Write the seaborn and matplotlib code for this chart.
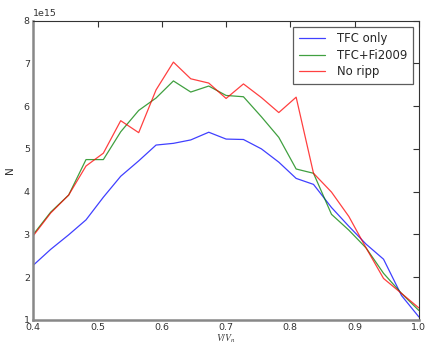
import numpy as np
import pandas as pd
import matplotlib
matplotlib.use("Agg")
import matplotlib.pyplot as plt
import seaborn as sns

x_vals = [0.400, 0.427, 0.455, 0.482, 0.509, 0.536, 0.564, 0.591, 0.618, 0.645,
          0.673, 0.700, 0.727, 0.755, 0.782, 0.809, 0.836, 0.864, 0.891, 0.918,
          0.945, 0.973, 1.000]
tfc_only = [2.28, 2.65, 2.99, 3.34, 3.87, 4.36, 4.72, 5.09, 5.13, 5.21, 5.39, 5.23,
            5.22, 5.00, 4.69, 4.31, 4.17, 3.63, 3.19, 2.77, 2.42, 1.57, 1.07]
tfc_fi2009 = [3.00, 3.52, 3.92, 4.75, 4.75, 5.40, 5.90, 6.19, 6.59, 6.33, 6.47, 6.25,
              6.22, 5.75, 5.27, 4.53, 4.43, 3.47, 3.10, 2.68, 2.09, 1.62, 1.22]
no_ripp = [2.97, 3.50, 3.92, 4.60, 4.90, 5.66, 5.38, 6.38, 7.03, 6.64, 6.54, 6.18,
           6.52, 6.20, 5.85, 6.21, 4.43, 3.99, 3.42, 2.68, 1.97, 1.62, 1.28]
series_names = ["TFC only", "TFC+Fi2009", "No ripp"]
series_colors = ["#0000ff", "#008000", "#ff0000"]
scale = 1e15

rows = []
for name, vals in zip(series_names, [tfc_only, tfc_fi2009, no_ripp]):
    for xv, yv in zip(x_vals, vals):
        rows.append({"x": xv, "N": yv * scale, "series": name})
df = pd.DataFrame(rows)

sns.set_style("white")
plt.rcParams["font.family"] = ["DejaVu Sans"]
plt.rcParams["mathtext.fontset"] = "stix"

fig = plt.figure(figsize=(4.27, 3.44), dpi=100)
ax = fig.add_axes([0.078, 0.070, 0.903, 0.870])

sns.lineplot(data=df, x="x", y="N", hue="series", hue_order=series_names,
             palette=series_colors, ax=ax, linewidth=0.9, alpha=0.75,
             estimator=None, sort=False)

ax.set_xlim(0.4, 1.0)
ax.set_ylim(1e15, 8e15)
ax.set_xticks([0.4, 0.5, 0.6, 0.7, 0.8, 0.9, 1.0])
ax.set_yticks([k * 1e15 for k in range(1, 9)])
ax.tick_params(direction="in", length=4, width=0.8, top=True, right=True,
               labelsize=6.8, colors="#333333", pad=2.5)
ax.yaxis.get_offset_text().set_fontsize(6.8)
ax.yaxis.get_offset_text().set_color("#333333")

for side in ["left", "bottom"]:
    ax.spines[side].set_color("#888888")
    ax.spines[side].set_linewidth(1.8)
for side in ["top", "right"]:
    ax.spines[side].set_color("#333333")
    ax.spines[side].set_linewidth(0.8)

ax.set_xlabel("$V/V_n$", fontsize=7, labelpad=0, color="#333333")
ax.set_ylabel("N", fontsize=7.5, labelpad=6, color="#333333")

leg = ax.legend(loc="upper right", fontsize=8.4, frameon=True, fancybox=False,
                handlelength=2.2, borderpad=0.5, labelspacing=0.3,
                handletextpad=1.0, borderaxespad=0,
                bbox_to_anchor=(0.984, 0.98))
leg.get_frame().set_edgecolor("#333333")
leg.get_frame().set_linewidth(0.9)
for line in leg.get_lines():
    line.set_linewidth(0.9)

fig.savefig("out.png", dpi=100)
